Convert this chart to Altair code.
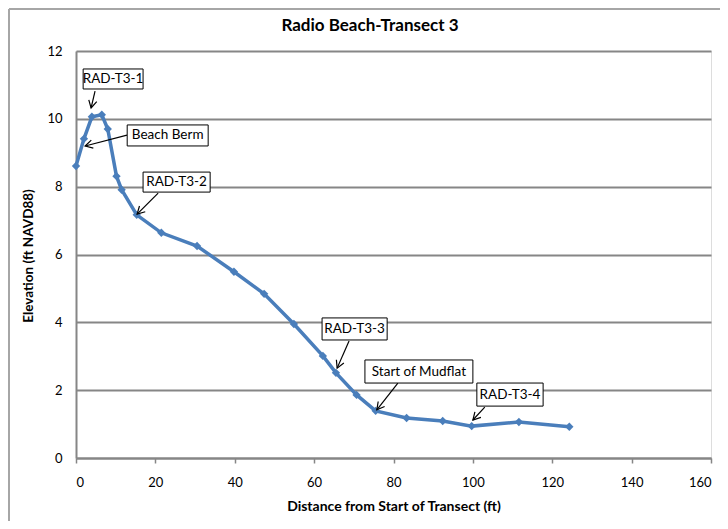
import math
import altair as alt
import pandas as pd

# ---- data ----
dist = [0, 2.0, 4.0, 6.5, 8.0, 10.2, 11.5, 15.3, 21.5, 30.5, 39.8, 47.4,
        54.9, 62.2, 65.5, 70.7, 75.5, 83.3, 92.4, 99.7, 111.6, 124.3]
elev = [8.61, 9.41, 10.06, 10.12, 9.70, 8.31, 7.91, 7.17, 6.64, 6.25, 5.49, 4.84,
        3.95, 3.01, 2.51, 1.86, 1.39, 1.18, 1.09, 0.94, 1.06, 0.92]

ann_text = ["RAD-T3-1", "Beach Berm", "RAD-T3-2", "RAD-T3-3", "Start of Mudflat", "RAD-T3-4"]
box_x1 = [1.8, 12.9, 16.9, 62.0, 72.8, 101.0]
box_x2 = [16.9, 33.3, 33.8, 78.4, 100.0, 117.7]
box_y1 = [11.47, 9.82, 8.43, 4.13, 2.89, 2.21]
box_y2 = [10.88, 9.20, 7.84, 3.48, 2.21, 1.53]
arr_x1 = [4.8, 12.85, 20.7, 68.8, 81.1, 103.0]
arr_y1 = [10.82, 9.52, 7.81, 3.45, 2.21, 1.50]
arr_x2 = [3.8, 2.3, 15.4, 65.8, 75.8, 100.0]
arr_y2 = [10.32, 9.20, 7.19, 2.65, 1.42, 1.12]

x_ticks = [0, 20, 40, 60, 80, 100, 120, 140, 160]
y_ticks = [0, 2, 4, 6, 8, 10, 12]
title_text = ["Radio Beach-Transect 3"]

W, H = 635, 407
XMAX, YMAX = 160, 12
FONT = "Lato"
GRID = "#868686"
BLUE = "#4A7EBB"

df = pd.DataFrame({"dist": dist, "elev": elev})

ann = pd.DataFrame({
    "text": ann_text,
    "bx1": box_x1, "bx2": box_x2, "by1": box_y1, "by2": box_y2,
    "ax1": arr_x1, "ay1": arr_y1, "ax2": arr_x2, "ay2": arr_y2,
})
ann["tx"] = (ann["bx1"] + ann["bx2"]) / 2
ann["ty"] = (ann["by1"] + ann["by2"]) / 2
# arrowhead rotation (clockwise from up) in screen space
ann["angle"] = [
    (math.degrees(math.atan2((x2 - x1) * W / XMAX, (y2 - y1) * H / YMAX)) + 360) % 360
    for x1, y1, x2, y2 in zip(arr_x1, arr_y1, arr_x2, arr_y2)
]

xs = alt.Scale(domain=[0, XMAX], nice=False)
ys = alt.Scale(domain=[0, YMAX], nice=False)

xaxis = alt.Axis(values=x_ticks, grid=False, domainColor=GRID, domainWidth=2,
                 tickColor=GRID, tickWidth=1.5, tickSize=5, labelFont=FONT,
                 labelFontSize=13, labelColor="black", labelPadding=13,
                 title="Distance from Start of Transect (ft)", titleFont=FONT,
                 titleFontSize=14, titleFontWeight="bold", titleColor="black",
                 titlePadding=10, format="d")
yaxis = alt.Axis(values=y_ticks, grid=True, gridColor=GRID, gridWidth=2,
                 domainColor=GRID, domainWidth=2, ticks=False, labelFont=FONT,
                 labelFontSize=13, labelColor="black", labelPadding=14,
                 title="Elevation (ft NAVD88)", titleFont=FONT, titleFontSize=13.5,
                 titleFontWeight="bold", titleColor="black", titleX=-48,
                 titleY=H / 2 + 1, titleBaseline="middle", format="d")

base = alt.Chart(df)
line = base.mark_line(color=BLUE, strokeWidth=3.5).encode(
    x=alt.X("dist:Q", scale=xs, axis=xaxis),
    y=alt.Y("elev:Q", scale=ys, axis=yaxis),
)
pts = base.mark_point(shape="diamond", filled=True, color=BLUE, size=70, opacity=1).encode(
    x=alt.X("dist:Q", scale=xs), y=alt.Y("elev:Q", scale=ys)
)

abase = alt.Chart(ann)
arrows = abase.mark_rule(color="black", strokeWidth=1.2).encode(
    x=alt.X("ax1:Q", scale=xs), y=alt.Y("ay1:Q", scale=ys),
    x2="ax2:Q", y2="ay2:Q",
)
heads = abase.mark_point(shape="M-0.55,1 L0,0 L0.55,1", filled=False, color="black",
                         strokeWidth=1.2, size=220, opacity=1).encode(
    x=alt.X("ax2:Q", scale=xs), y=alt.Y("ay2:Q", scale=ys),
    angle=alt.Angle("angle:Q", scale=None),
)
boxes = abase.mark_rect(fill="white", stroke="black", strokeWidth=1).encode(
    x=alt.X("bx1:Q", scale=xs), x2="bx2:Q",
    y=alt.Y("by1:Q", scale=ys), y2="by2:Q",
)
labels = abase.mark_text(font=FONT, fontSize=13.5, color="black", align="center",
                         baseline="middle").encode(
    x=alt.X("tx:Q", scale=xs), y=alt.Y("ty:Q", scale=ys), text="text:N"
)

tdf = pd.DataFrame({"t": title_text})
title = alt.Chart(tdf).mark_text(font=FONT, fontSize=17, fontWeight="bold", color="black",
                                 align="center", baseline="middle").encode(
    x=alt.value(294), y=alt.value(-25), text="t:N"
)

frame_t = alt.Chart(tdf).mark_rule(color="#A6A6A6", strokeWidth=2).encode(
    x=alt.value(-67), x2=alt.value(W + 80), y=alt.value(-42)
)
frame_l = alt.Chart(tdf).mark_rule(color="#A6A6A6", strokeWidth=2).encode(
    x=alt.value(-67), y=alt.value(-42), y2=alt.value(H + 80)
)

chart = alt.layer(frame_t, frame_l, line, pts, arrows, heads, boxes, labels, title).properties(
    width=W, height=H,
    autosize=alt.AutoSizeParams(type="none"),
    padding={"left": 68, "top": 43, "right": 9, "bottom": 63},
).configure_view(stroke=None).configure(background="white")

chart.save("out.html", embed_options={"renderer": "svg", "actions": False})
